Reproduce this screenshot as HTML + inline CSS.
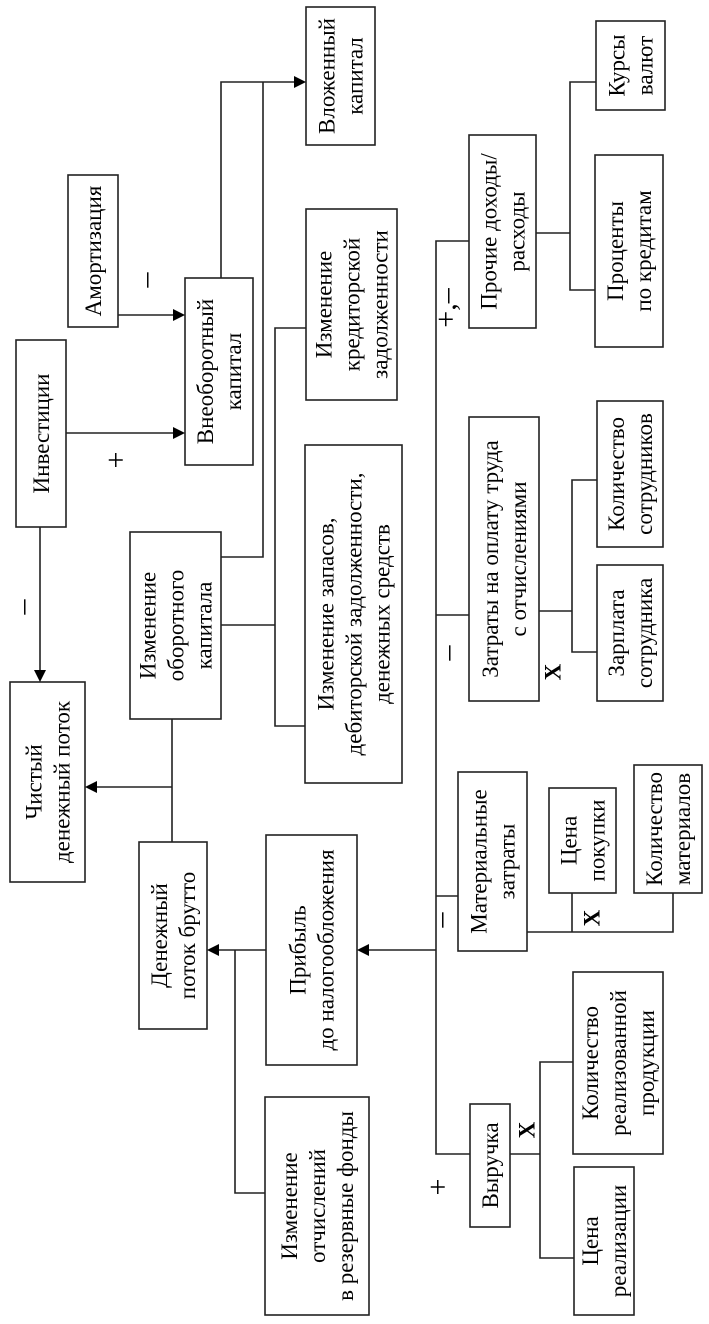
<!DOCTYPE html>
<html><head><meta charset="utf-8"><style>
html,body{margin:0;padding:0;background:#fff;}
svg{display:block;}
text{font-family:"Liberation Serif",serif;font-size:23px;fill:#000;}
.s{font-size:30px;}
</style></head><body>
<svg width="709" height="1324" viewBox="0 0 709 1324" xmlns="http://www.w3.org/2000/svg">
<g fill="none" stroke="#222" stroke-width="1.6">
<rect x="306" y="7" width="69" height="138"/>
<rect x="596" y="21" width="69" height="89"/>
<rect x="68" y="175" width="50" height="152"/>
<rect x="185" y="278" width="68" height="187"/>
<rect x="16" y="340" width="50" height="187"/>
<rect x="306" y="209" width="91" height="191"/>
<rect x="469" y="135" width="67" height="193"/>
<rect x="595" y="155" width="68" height="192"/>
<rect x="469" y="417" width="70" height="284"/>
<rect x="597" y="401" width="66" height="146"/>
<rect x="597" y="565" width="66" height="136"/>
<rect x="130" y="532" width="91" height="187"/>
<rect x="305" y="445" width="97" height="338"/>
<rect x="10" y="682" width="75" height="200"/>
<rect x="139" y="842" width="68" height="187"/>
<rect x="266" y="835" width="91" height="230"/>
<rect x="458" y="772" width="69" height="179"/>
<rect x="549" y="788" width="67" height="105"/>
<rect x="634" y="765" width="68" height="128"/>
<rect x="265" y="1097" width="104" height="218"/>
<rect x="470" y="1104" width="40" height="123"/>
<rect x="573" y="972" width="90" height="182"/>
<rect x="574" y="1167" width="60" height="148"/>
<polyline points="221,278 221,82 298,82"/>
<polyline points="263,82 263,557 221,557"/>
<line x1="118" y1="315" x2="177" y2="315"/>
<line x1="66" y1="433" x2="177" y2="433"/>
<polyline points="306,328 275,328 275,726 305,726"/>
<line x1="221" y1="625" x2="275" y2="625"/>
<polyline points="469,241 436,241 436,1154 470,1154"/>
<polyline points="536,233 570,233"/>
<polyline points="596,82 570,82 570,290 595,290"/>
<line x1="436" y1="615" x2="469" y2="615"/>
<line x1="539" y1="611" x2="572" y2="611"/>
<polyline points="597,480 572,480 572,652 597,652"/>
<line x1="40" y1="527" x2="40" y2="674"/>
<polyline points="172,719 172,842"/>
<line x1="172" y1="787" x2="93" y2="787"/>
<line x1="436" y1="896" x2="458" y2="896"/>
<polyline points="527,932 673,932 673,893"/>
<line x1="572" y1="893" x2="572" y2="932"/>
<line x1="436" y1="950" x2="365" y2="950"/>
<line x1="266" y1="950" x2="215" y2="950"/>
<polyline points="235,950 235,1193 265,1193"/>
<line x1="510" y1="1154" x2="540" y2="1154"/>
<polyline points="573,1062 540,1062 540,1258 574,1258"/>
</g>
<g fill="#000">
<polygon points="306,82 294,76 294,88"/>
<polygon points="185,315 173,309 173,321"/>
<polygon points="185,433 173,427 173,439"/>
<polygon points="40,682 34,670 46,670"/>
<polygon points="85,787 97,781 97,793"/>
<polygon points="357,950 369,944 369,956"/>
<polygon points="207,950 219,944 219,956"/>
</g>
<g>
<text transform="translate(340.5,76) rotate(-90)" text-anchor="middle"><tspan x="0" y="-6">Вложенный</tspan><tspan x="0" y="22">капитал</tspan></text>
<text transform="translate(630.5,65.5) rotate(-90)" text-anchor="middle"><tspan x="0" y="-6">Курсы</tspan><tspan x="0" y="22">валют</tspan></text>
<text transform="translate(93,251) rotate(-90)" text-anchor="middle"><tspan x="0" y="8">Амортизация</tspan></text>
<text transform="translate(219,371.5) rotate(-90)" text-anchor="middle"><tspan x="0" y="-6">Внеоборотный</tspan><tspan x="0" y="22">капитал</tspan></text>
<text transform="translate(41,433.5) rotate(-90)" text-anchor="middle"><tspan x="0" y="8">Инвестиции</tspan></text>
<text transform="translate(351.5,304.5) rotate(-90)" text-anchor="middle"><tspan x="0" y="-20">Изменение</tspan><tspan x="0" y="8">кредиторской</tspan><tspan x="0" y="36">задолженности</tspan></text>
<text transform="translate(502.5,231.5) rotate(-90)" text-anchor="middle"><tspan x="0" y="-6">Прочие доходы/</tspan><tspan x="0" y="22">расходы</tspan></text>
<text transform="translate(629,251) rotate(-90)" text-anchor="middle"><tspan x="0" y="-6">Проценты</tspan><tspan x="0" y="22">по кредитам</tspan></text>
<text transform="translate(504,559) rotate(-90)" text-anchor="middle"><tspan x="0" y="-6">Затраты на оплату труда</tspan><tspan x="0" y="22">с отчислениями</tspan></text>
<text transform="translate(630,474) rotate(-90)" text-anchor="middle"><tspan x="0" y="-6">Количество</tspan><tspan x="0" y="22">сотрудников</tspan></text>
<text transform="translate(630,633) rotate(-90)" text-anchor="middle"><tspan x="0" y="-6">Зарплата</tspan><tspan x="0" y="22">сотрудника</tspan></text>
<text transform="translate(175.5,625.5) rotate(-90)" text-anchor="middle"><tspan x="0" y="-20">Изменение</tspan><tspan x="0" y="8">оборотного</tspan><tspan x="0" y="36">капитала</tspan></text>
<text transform="translate(353.5,614) rotate(-90)" text-anchor="middle"><tspan x="0" y="-20">Изменение запасов,</tspan><tspan x="0" y="8">дебиторской задолженности,</tspan><tspan x="0" y="36">денежных средств</tspan></text>
<text transform="translate(47.5,782) rotate(-90)" text-anchor="middle"><tspan x="0" y="-6">Чистый</tspan><tspan x="0" y="22">денежный поток</tspan></text>
<text transform="translate(173,935.5) rotate(-90)" text-anchor="middle"><tspan x="0" y="-6">Денежный</tspan><tspan x="0" y="22">поток брутто</tspan></text>
<text transform="translate(311.5,950) rotate(-90)" text-anchor="middle"><tspan x="0" y="-6">Прибыль</tspan><tspan x="0" y="22">до налогообложения</tspan></text>
<text transform="translate(492.5,861.5) rotate(-90)" text-anchor="middle"><tspan x="0" y="-6">Материальные</tspan><tspan x="0" y="22">затраты</tspan></text>
<text transform="translate(582.5,840.5) rotate(-90)" text-anchor="middle"><tspan x="0" y="-6">Цена</tspan><tspan x="0" y="22">покупки</tspan></text>
<text transform="translate(668,829) rotate(-90)" text-anchor="middle"><tspan x="0" y="-6">Количество</tspan><tspan x="0" y="22">материалов</tspan></text>
<text transform="translate(317,1206) rotate(-90)" text-anchor="middle"><tspan x="0" y="-20">Изменение</tspan><tspan x="0" y="8">отчислений</tspan><tspan x="0" y="36">в резервные фонды</tspan></text>
<text transform="translate(490,1165.5) rotate(-90)" text-anchor="middle"><tspan x="0" y="8">Выручка</tspan></text>
<text transform="translate(618,1063) rotate(-90)" text-anchor="middle"><tspan x="0" y="-20">Количество</tspan><tspan x="0" y="8">реализованной</tspan><tspan x="0" y="36">продукции</tspan></text>
<text transform="translate(604,1241) rotate(-90)" text-anchor="middle"><tspan x="0" y="-6">Цена</tspan><tspan x="0" y="22">реализации</tspan></text>
<text class="s" transform="translate(145,280) rotate(-90)" text-anchor="middle" dominant-baseline="central">–</text>
<text class="s" transform="translate(116,460) rotate(-90)" text-anchor="middle" dominant-baseline="central">+</text>
<text class="s" transform="translate(22,607) rotate(-90)" text-anchor="middle" dominant-baseline="central">–</text>
<text class="s" transform="translate(446,308) rotate(-90)" text-anchor="middle" dominant-baseline="central">+,–</text>
<text class="s" transform="translate(447,653) rotate(-90)" text-anchor="middle" dominant-baseline="central">–</text>
<text class="s" transform="translate(440,920) rotate(-90)" text-anchor="middle" dominant-baseline="central">–</text>
<text class="s" transform="translate(438,1187) rotate(-90)" text-anchor="middle" dominant-baseline="central">+</text>
<text transform="translate(553,672) rotate(-90)" text-anchor="middle" dominant-baseline="central" font-weight="bold" font-size="26">X</text>
<text transform="translate(592,918) rotate(-90)" text-anchor="middle" dominant-baseline="central" font-weight="bold" font-size="26">X</text>
<text transform="translate(527,1130) rotate(-90)" text-anchor="middle" dominant-baseline="central" font-weight="bold" font-size="26">X</text>
</g>
</svg>
</body></html>
